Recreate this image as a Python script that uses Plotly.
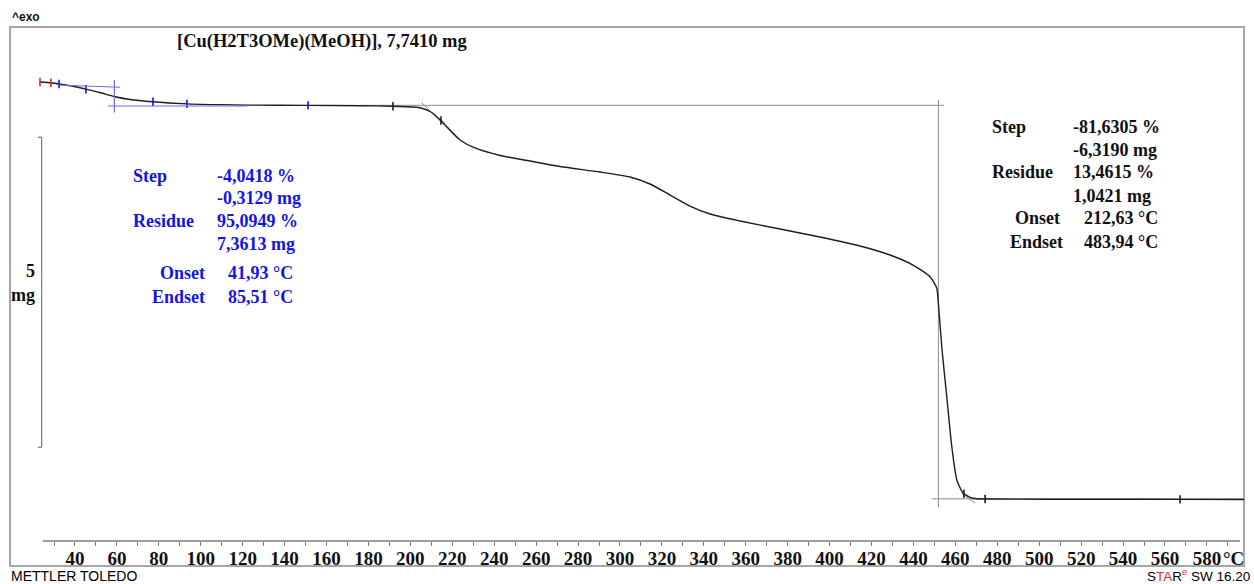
import plotly.graph_objects as go

# ---------------- data ----------------
temp_c = [23.3, 28.5, 32.5, 38.6, 45.6, 51.9, 58.6, 66.2, 77.2, 93.4, 109.2, 122.1,
          151.2, 176.0, 191.7, 201.3, 205.5, 209.4, 214.6, 218.9, 223.7, 230.8,
          242.8, 257.1, 271.4, 290.5, 304.8, 314.3, 323.9, 333.4, 343.0, 357.3,
          376.4, 395.4, 414.5, 428.8, 439.8, 447.9, 451.1, 452.0, 453.5, 455.9,
          458.3, 460.7, 463.7, 468.4, 476.5, 529.0, 567.2, 597.7]
mass_mg = [7.741, 7.728, 7.709, 7.676, 7.623, 7.572, 7.507, 7.459, 7.422, 7.389,
           7.376, 7.368, 7.364, 7.359, 7.351, 7.338, 7.318, 7.265, 7.120, 6.967,
           6.806, 6.677, 6.556, 6.467, 6.378, 6.289, 6.209, 6.096, 5.918, 5.741,
           5.612, 5.499, 5.370, 5.241, 5.096, 4.951, 4.789, 4.601, 4.418, 4.128,
           3.472, 2.665, 1.859, 1.322, 1.112, 1.027, 1.015, 1.012, 1.010, 1.007]

tick_values = [40, 60, 80, 100, 120, 140, 160, 180, 200, 220, 240, 260, 280, 300,
               320, 340, 360, 380, 400, 420, 440, 460, 480, 500, 520, 540, 560, 580]
tick_labels = [str(v) for v in tick_values]
minor_tick_values = [30, 50, 70, 90, 110, 130, 150, 170, 190, 210, 230, 250, 270,
                     290, 310, 330, 350, 370, 390, 410, 430, 450, 470, 490, 510,
                     530, 550, 570, 590]

# evaluation markers on the curve
red_mark_t = [23.3, 28.5]
red_mark_m = [7.741, 7.728]
blue_mark_t = [32.4, 45.2, 77.2, 93.4, 151.2]
blue_mark_m = [7.709, 7.625, 7.422, 7.389, 7.364]
black_mark_t = [191.7, 214.6, 464.1, 474.2, 567.2]
black_mark_m = [7.351, 7.120, 1.100, 1.015, 1.010]

title_text = "[Cu(H2T3OMe)(MeOH)], 7,7410 mg"
step1_labels = ["Step", "Residue", "Onset", "Endset"]
step1_values = ["-4,0418 %", "-0,3129 mg", "95,0949 %", "7,3613 mg", "41,93 °C", "85,51 °C"]
step2_values = ["-81,6305 %", "-6,3190 mg", "13,4615 %", "1,0421 mg", "212,63 °C", "483,94 °C"]

# ---------------- layout geometry ----------------
W, H = 1254, 584
ML, MR, MT, MB = 10, 10, 28, 43
PW, PH = W - ML - MR, H - MT - MB
X_RANGE = [9.0, 597.7]
Y_RANGE = [0.338, 8.612]


def px(x):
    return (x - ML) / PW


def py(y):
    return (H - MB - y) / PH


SERIF = "Liberation Serif"
SANS = "Liberation Sans"
BLUE = "#1414e6"
GRAY = "#8c8c8c"

fig = go.Figure()

fig.add_trace(go.Scatter(x=temp_c, y=mass_mg, mode="lines",
                         line=dict(color="#1e1e1e", width=1.4, shape="spline", smoothing=0.6),
                         hoverinfo="skip", showlegend=False))

for tt, mm, col in [(red_mark_t, red_mark_m, "#e8282a"),
                    (blue_mark_t, blue_mark_m, BLUE),
                    (black_mark_t, black_mark_m, "#1e1e1e")]:
    fig.add_trace(go.Scatter(x=tt, y=mm, mode="markers",
                             marker=dict(symbol="line-ns", size=6,
                                         line=dict(color=col, width=1.6)),
                             hoverinfo="skip", showlegend=False))

shapes = []
# outer frame
shapes.append(dict(type="rect", xref="paper", yref="paper",
                   x0=px(10), x1=px(1244), y0=py(566), y1=py(27),
                   line=dict(color="#a6a6a6", width=2), layer="below"))
# x-axis line
shapes.append(dict(type="line", xref="x", yref="paper", x0=24.7, x1=595.8,
                   y0=0, y1=0, line=dict(color="#7a7a7a", width=1.5)))
# 5 mg scale bracket
shapes.append(dict(type="line", xref="x", yref="y", x0=24.1, x1=24.1, y0=1.85, y1=6.85,
                   line=dict(color="#7a7a7a", width=1.2)))
shapes.append(dict(type="line", xref="x", yref="y", x0=22.3, x1=24.1, y0=6.85, y1=6.85,
                   line=dict(color="#7a7a7a", width=1.2)))
shapes.append(dict(type="line", xref="x", yref="y", x0=22.3, x1=24.1, y0=1.85, y1=1.85,
                   line=dict(color="#7a7a7a", width=1.2)))
# first step construction (blue)
for x0, y0, x1, y1 in [(31.3, 7.693, 61.5, 7.656), (58.8, 7.773, 58.8, 7.249),
                       (55.7, 7.354, 122.1, 7.354)]:
    shapes.append(dict(type="line", xref="x", yref="y", x0=x0, y0=y0, x1=x1, y1=y1,
                       line=dict(color="#6a6af0", width=1.2)))
# second step construction (gray)
for x0, y0, x1, y1 in [(176.0, 7.365, 454.6, 7.365), (205.4, 7.407, 222.7, 6.822),
                       (451.9, 7.451, 451.9, 0.886), (448.7, 1.018, 597.7, 1.018),
                       (463.0, 1.107, 469.4, 0.951)]:
    shapes.append(dict(type="line", xref="x", yref="y", x0=x0, y0=y0, x1=x1, y1=y1,
                       line=dict(color=GRAY, width=1.0), layer="below"))

ann = []


def text(x, y, s, size, color="#111111", family=SERIF, anchor="left", bold=True):
    ann.append(dict(xref="paper", yref="paper", x=px(x), y=py(y), text=s,
                    showarrow=False, xanchor=anchor, yanchor="middle",
                    font=dict(family=family, size=size, color=color,
                              weight=("bold" if bold else "normal"))))


text(10, 17, "^exo", 12, family=SANS)
text(175, 41, title_text, 18.5)
text(9, 576, "METTLER TOLEDO", 14, family=SANS, bold=False, color="#000000")
text(1252, 575, "S<span style='color:#e8282a'>TA</span>R<sup><span style='color:#e8282a'>e</span></sup> SW 16.20",
     13.5, family=SANS, anchor="right", bold=False, color="#000000")
text(1246, 558, "°C", 19, anchor="right")
text(37, 271, "5", 18, anchor="right")
text(37, 295, "mg", 18, anchor="right")

# step 1 (blue)
text(131, 176, step1_labels[0], 18, BLUE)
text(215, 176, step1_values[0], 18, BLUE)
text(215, 198, step1_values[1], 18, BLUE)
text(131, 221, step1_labels[1], 18, BLUE)
text(215, 221, step1_values[2], 18, BLUE)
text(215, 244, step1_values[3], 18, BLUE)
text(207, 273, step1_labels[2], 18, BLUE, anchor="right")
text(226, 273, step1_values[4], 18, BLUE)
text(207, 297, step1_labels[3], 18, BLUE, anchor="right")
text(226, 297, step1_values[5], 18, BLUE)

# step 2 (black)
text(990, 127, step1_labels[0], 18)
text(1071, 127, step2_values[0], 18)
text(1071, 150, step2_values[1], 18)
text(990, 172, step1_labels[1], 18)
text(1071, 172, step2_values[2], 18)
text(1071, 196, step2_values[3], 18)
text(1062, 218, step1_labels[2], 18, anchor="right")
text(1082, 218, step2_values[4], 18)
text(1065, 242, step1_labels[3], 18, anchor="right")
text(1082, 242, step2_values[5], 18)

fig.update_layout(
    width=W, height=H, margin=dict(l=ML, r=MR, t=MT, b=MB),
    paper_bgcolor="white", plot_bgcolor="white",
    shapes=shapes, annotations=ann, showlegend=False,
    xaxis=dict(range=X_RANGE, showgrid=False, zeroline=False, showline=False,
               tickmode="array", tickvals=tick_values, ticktext=tick_labels,
               ticks="outside", ticklen=4, tickwidth=1, tickcolor="#7a7a7a",
               ticklabelstandoff=-4,
               tickfont=dict(family=SERIF, size=19, color="#111111", weight="bold"),
               minor=dict(tickmode="array", tickvals=minor_tick_values, ticks="outside",
                          ticklen=4, tickwidth=1, tickcolor="#7a7a7a", showgrid=False),
               fixedrange=True),
    yaxis=dict(range=Y_RANGE, visible=False, fixedrange=True),
)

fig.write_html("out.html", config={"displayModeBar": False},
               post_script="document.body.style.margin='0';document.body.style.overflow='hidden';")
